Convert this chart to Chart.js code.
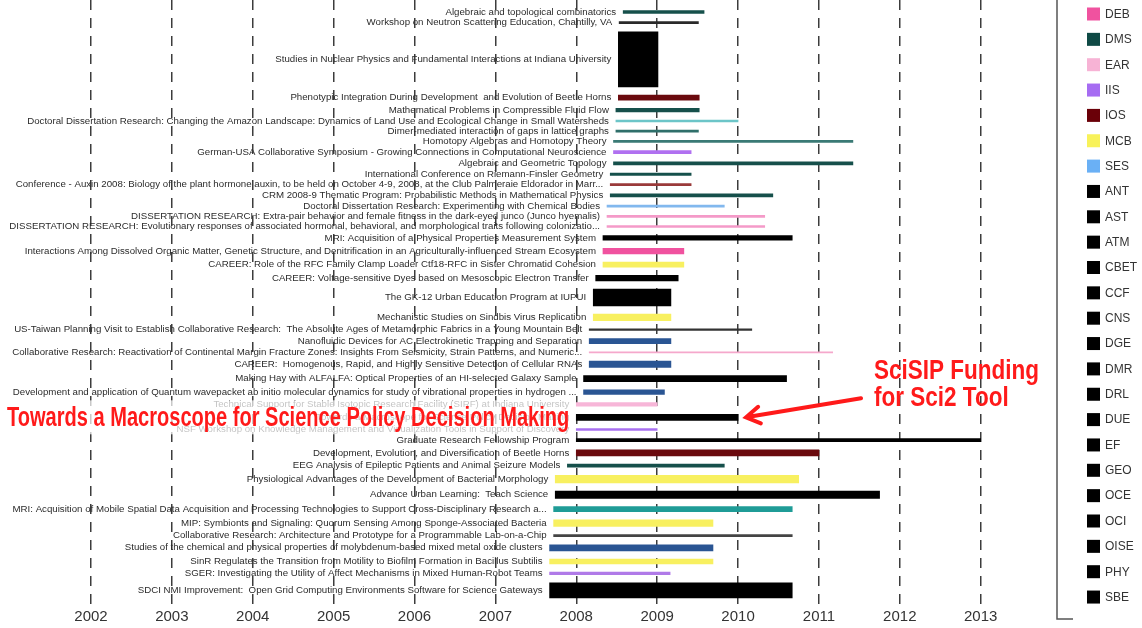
<!DOCTYPE html>
<html>
<head>
<meta charset="utf-8">
<script src="https://cdn.jsdelivr.net/npm/chart.js@4/dist/chart.umd.min.js"></script>
<style>
  html, body { margin: 0; padding: 0; background: #fff; }
  #wrap { width: 1142px; height: 628px; }
</style>
</head>
<body>
<div id="wrap"><canvas id="chart"></canvas></div>
<script>
const projects = [
  'Algebraic and topological combinatorics',
  'Workshop on Neutron Scattering Education, Chantilly, VA',
  'Studies in Nuclear Physics and Fundamental Interactions at Indiana University',
  'Phenotypic Integration During Development  and Evolution of Beetle Horns',
  'Mathematical Problems in Compressible Fluid Flow',
  'Doctoral Dissertation Research: Changing the Amazon Landscape: Dynamics of Land Use and Ecological Change in Small Watersheds',
  'Dimer-mediated interaction of gaps in lattice graphs',
  'Homotopy Algebras and Homotopy Theory',
  'German-USA Collaborative Symposium - Growing Connections in Computational Neuroscience',
  'Algebraic and Geometric Topology',
  'International Conference on Riemann-Finsler Geometry',
  'Conference - Auxin 2008: Biology of the plant hormone auxin, to be held on October 4-9, 2008, at the Club Palmeraie Eldorador in Marr...',
  'CRM 2008-9 Thematic Program: Probabilistic Methods in Mathematical Physics',
  'Doctoral Dissertation Research: Experimenting with Chemical Bodies',
  'DISSERTATION RESEARCH: Extra-pair behavior and female fitness in the dark-eyed junco (Junco hyemalis)',
  'DISSERTATION RESEARCH: Evolutionary responses of associated hormonal, behavioral, and morphological traits following colonizatio...',
  'MRI: Acquisition of a Physical Properties Measurement System',
  'Interactions Among Dissolved Organic Matter, Genetic Structure, and Denitrification in an Agriculturally-influenced Stream Ecosystem',
  'CAREER: Role of the RFC Family Clamp Loader Ctf18-RFC in Sister Chromatid Cohesion',
  'CAREER: Voltage-sensitive Dyes based on Mesoscopic Electron Transfer',
  'The GK-12 Urban Education Program at IUPUI',
  'Mechanistic Studies on Sindbis Virus Replication',
  'US-Taiwan Planning Visit to Establish Collaborative Research:  The Absolute Ages of Metamorphic Fabrics in a Young Mountain Belt',
  'Nanofluidic Devices for AC Electrokinetic Trapping and Separation',
  'Collaborative Research: Reactivation of Continental Margin Fracture Zones: Insights From Seismicity, Strain Patterns, and Numeric...',
  'CAREER:  Homogenous, Rapid, and Highly Sensitive Detection of Cellular RNAs',
  'Making Hay with ALFALFA: Optical Properties of an HI-selected Galaxy Sample',
  'Development and application of Quantum wavepacket ab initio molecular dynamics for study of vibrational properties in hydrogen ...',
  'Technical Support for Stable Isotopic Research Facility (SIRF) at Indiana University',
  'Towards a Macroscope for Science Policy Decision Making',
  'NSF Workshop on Knowledge Management and Visualization Tools in Support of Discovery',
  'Graduate Research Fellowship Program',
  'Development, Evolution, and Diversification of Beetle Horns',
  'EEG Analysis of Epileptic Patients and Animal Seizure Models',
  'Physiological Advantages of the Development of Bacterial Morphology',
  'Advance Urban Learning:  Teach Science',
  'MRI: Acquisition of Mobile Spatial Data Acquisition and Processing Technologies to Support Cross-Disciplinary Research a...',
  'MIP: Symbionts and Signaling: Quorum Sensing Among Sponge-Associated Bacteria',
  'Collaborative Research: Architecture and Prototype for a Programmable Lab-on-a-Chip',
  'Studies of the chemical and physical properties of molybdenum-based mixed metal oxide clusters',
  'SinR Regulates the Transition from Motility to Biofilm Formation in Bacillus Subtilis',
  'SGER: Investigating the Utility of Affect Mechanisms in Mixed Human-Robot Teams',
  'SDCI NMI Improvement:  Open Grid Computing Environments Software for Science Gateways'
];

const startYear = [
  2008.58, 2008.53, 2008.52, 2008.52, 2008.49, 2008.49, 2008.49, 2008.46, 2008.46, 2008.46,
  2008.42, 2008.42, 2008.42, 2008.38, 2008.38, 2008.38, 2008.33, 2008.33, 2008.33, 2008.24,
  2008.21, 2008.21, 2008.16, 2008.16, 2008.16, 2008.16, 2008.09, 2008.09, 2008.0, 2008.0,
  2008.0, 2008.0, 2008.0, 2007.89, 2007.74, 2007.74, 2007.72, 2007.72, 2007.72, 2007.67,
  2007.67, 2007.67, 2007.67
];

const endYear = [
  2009.58, 2009.51, 2009.01, 2009.52, 2009.52, 2010.0, 2009.51, 2011.42, 2009.42, 2011.42,
  2009.42, 2009.42, 2010.43, 2009.83, 2010.33, 2010.33, 2010.67, 2009.33, 2009.33, 2009.26,
  2009.17, 2009.17, 2010.17, 2009.17, 2011.17, 2009.17, 2010.6, 2009.09, 2009.0, 2010.0,
  2009.0, 2013.0, 2011.0, 2009.83, 2010.75, 2011.75, 2010.67, 2009.69, 2010.67, 2009.69,
  2009.69, 2009.16, 2010.67
];

// relative award size, shown as bar thickness
const awardSize = [
  3, 2, 55, 5, 3.5, 2, 2, 2, 3, 3,
  2.5, 2, 3, 2, 2, 2, 4.5, 5.5, 5, 5.5,
  17, 6.5, 1.5, 5, 1, 6.5, 6, 4.5, 3.5, 6,
  2, 3, 6, 3, 7.5, 7.5, 5, 6.5, 2, 6,
  5, 2.5, 15
];

const years = [2002, 2003, 2004, 2005, 2006, 2007, 2008, 2009, 2010, 2011, 2012, 2013];

const directorates = ['DEB', 'DMS', 'EAR', 'IIS', 'IOS', 'MCB', 'SES', 'ANT', 'AST', 'ATM', 'CBET', 'CCF',
  'CNS', 'DGE', 'DMR', 'DRL', 'DUE', 'EF', 'GEO', 'OCE', 'OCI', 'OISE', 'PHY', 'SBE'];

// colours
const barColors = [
  '#16504b', '#2a2a2a', '#000000', '#6a0a0e', '#16504b', '#6cc5c8', '#2f6f6a', '#3a7a75', '#b070f0', '#16504b',
  '#16504b', '#9a3a3a', '#16504b', '#82b8ee', '#f49ac8', '#f49ac8', '#000000', '#f0529f', '#f8f060', '#000000',
  '#000000', '#f8f060', '#333333', '#2a5593', '#f5a8cc', '#2a5593', '#000000', '#2a5593', '#f7b6d8', '#000000',
  '#a870f0', '#000000', '#6a0a0e', '#16504b', '#f8f060', '#000000', '#1f9c97', '#f8f060', '#444444', '#2a5593',
  '#f8f060', '#b07ae8', '#000000'
];
const directorateColors = ['#f0529f', '#0f4a45', '#f7b3d5', '#a66cf2', '#6a0008', '#f8f25a', '#6ab0f5'];

const rowGap = 8.2;
let acc = 0;
const rowCenter = awardSize.map(a => {
  const c = acc + a / 2;
  acc += a + rowGap;
  return c;
});

const highlight = projects.indexOf('Towards a Macroscope for Science Policy Decision Making');

// text fitted to a given width by squeezing it horizontally
function fitText(ctx, text, x, y, width) {
  const w = ctx.measureText(text).width;
  ctx.save();
  ctx.translate(x, y);
  ctx.scale(width / w, 1);
  ctx.fillText(text, 0, 0);
  ctx.restore();
}

const projectLabels = {
  id: 'projectLabels',
  afterDatasetsDraw(chart) {
    const { ctx, scales: { x, y } } = chart;
    ctx.save();
    ctx.font = '9.7px "Liberation Sans", Arial, sans-serif';
    ctx.textAlign = 'right';
    ctx.textBaseline = 'middle';
    ctx.fillStyle = '#2b2b2b';
    projects.forEach((p, i) => {
      ctx.fillText(p, x.getPixelForValue(startYear[i]) - 7, y.getPixelForValue(rowCenter[i]));
    });
    ctx.restore();
  }
};

const annotations = {
  id: 'annotations',
  afterDraw(chart) {
    const { ctx, scales: { x, y } } = chart;
    const cy = y.getPixelForValue(rowCenter[highlight]);
    const x0 = x.getPixelForValue(startYear[highlight]);
    const x1 = x.getPixelForValue(endYear[highlight]);
    ctx.save();
    ctx.fillStyle = 'rgba(255,255,255,0.72)';
    ctx.fillRect(0, cy - 17, x0 - 3, 34);

    ctx.fillStyle = '#ff1a1a';
    ctx.textAlign = 'left';
    ctx.textBaseline = 'alphabetic';
    ctx.font = 'bold 27px "Liberation Sans Narrow", "Liberation Sans", Arial, sans-serif';
    fitText(ctx, projects[highlight], 7, cy + 9, x0 - 14);

    // arrow
    const tipX = x1 + 8, tipY = cy;
    const tailX = tipX + 115, tailY = tipY - 19;
    const ang = Math.atan2(tailY - tipY, tailX - tipX);
    ctx.strokeStyle = '#ff1a1a';
    ctx.lineWidth = 4;
    ctx.lineCap = 'round';
    ctx.beginPath();
    ctx.moveTo(tailX, tailY);
    ctx.lineTo(tipX + 3 * Math.cos(ang), tipY + 3 * Math.sin(ang));
    ctx.moveTo(tipX + 16 * Math.cos(ang - 0.55), tipY + 16 * Math.sin(ang - 0.55));
    ctx.lineTo(tipX, tipY);
    ctx.lineTo(tipX + 16 * Math.cos(ang + 0.55), tipY + 16 * Math.sin(ang + 0.55));
    ctx.stroke();

    ctx.font = 'bold 28px "Liberation Sans Narrow", "Liberation Sans", Arial, sans-serif';
    const line1 = 'SciSIP Funding', line2 = 'for Sci2 Tool';
    const k = 165 / ctx.measureText(line1).width;
    fitText(ctx, line1, tipX + 128, tipY - 38, 165);
    fitText(ctx, line2, tipX + 128, tipY - 11, ctx.measureText(line2).width * k);
    ctx.restore();
  }
};

const sideLegend = {
  id: 'sideLegend',
  afterDraw(chart) {
    const { ctx, chartArea } = chart;
    const bx = chartArea.right + 7;
    ctx.save();
    ctx.strokeStyle = '#555';
    ctx.lineWidth = 1.5;
    ctx.beginPath();
    ctx.moveTo(bx, 0);
    ctx.lineTo(bx, 619);
    ctx.lineTo(bx + 16, 619);
    ctx.stroke();
    ctx.font = '12px "Liberation Sans", Arial, sans-serif';
    ctx.textBaseline = 'middle';
    directorates.forEach((d, i) => {
      const cy = 14 + i * 25.35;
      ctx.fillStyle = directorateColors[i] || '#000';
      ctx.fillRect(bx + 30, cy - 6.5, 13, 13);
      ctx.fillStyle = '#333';
      ctx.fillText(d, bx + 48, cy + 0.5);
    });
    ctx.restore();
  }
};

const datasets = projects.map((p, i) => ({
  label: p,
  data: [{ x: [startYear[i], endYear[i]], y: rowCenter[i] }],
  backgroundColor: barColors[i],
  stack: 'rows',
  barThickness: awardSize[i]
}));

const chart = new Chart(document.getElementById('chart'), {
  type: 'bar',
  data: { datasets },
  options: {
    indexAxis: 'y',
    responsive: true,
    maintainAspectRatio: false,
    animation: false,
    events: [],
    layout: { padding: { left: 0, right: 92, top: 0, bottom: 0 } },
    plugins: {
      legend: { display: false },
      tooltip: { enabled: false }
    },
    scales: {
      x: {
        type: 'linear',
        stacked: false,
        min: 2000.875,
        max: 2013.857,
        afterBuildTicks: axis => { axis.ticks = years.map(v => ({ value: v })); },
        afterFit: axis => { axis.height = 24; },
        grid: { color: '#3c3c3c', lineWidth: 1.5, drawTicks: false },
        border: { display: false, dash: [10, 8] },
        ticks: {
          padding: 4,
          color: '#333',
          font: { size: 15, family: '"Liberation Sans", Arial, sans-serif' },
          callback: v => String(v)
        }
      },
      y: {
        type: 'linear',
        display: false,
        reverse: true,
        offset: false,
        min: -10.5,
        max: 593.5
      }
    }
  },
  plugins: [projectLabels, annotations, sideLegend]
});

// bar thickness follows the award size in y-axis units
const ppu = Math.abs(chart.scales.y.getPixelForValue(1) - chart.scales.y.getPixelForValue(0));
chart.data.datasets.forEach((ds, i) => { ds.barThickness = awardSize[i] * ppu; });
chart.update('none');
</script>
</body>
</html>
